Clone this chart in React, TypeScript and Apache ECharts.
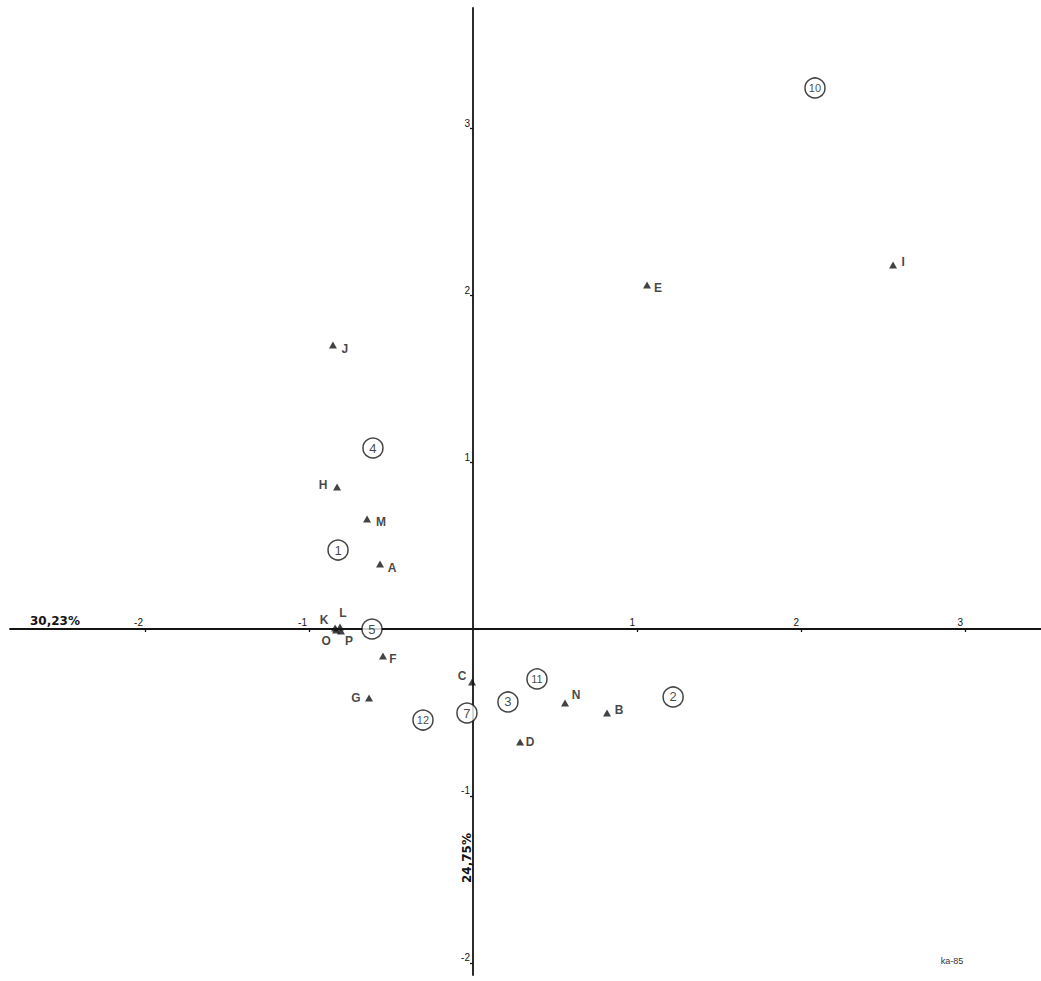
import React, { useEffect, useRef } from "react";
import * as echarts from "echarts";

// Row points (triangles)
const rowLabels = ["A", "B", "C", "D", "E", "F", "G", "H", "I", "J", "K", "L", "M", "N", "O", "P"];
const rowX = [-0.567, 0.817, -0.006, 0.287, 1.061, -0.549, -0.634, -0.829, 2.561, -0.854, -0.841, -0.811, -0.646, 0.561, -0.835, -0.805];
const rowY = [0.389, -0.503, -0.317, -0.677, 2.06, -0.162, -0.413, 0.85, 2.18, 1.701, 0.006, 0.012, 0.659, -0.443, -0.006, -0.012];

// Column points (circled numbers)
const colLabels = ["1", "2", "3", "4", "5", "7", "10", "11", "12"];
const colX = [-0.823, 1.22, 0.213, -0.61, -0.616, -0.037, 2.085, 0.39, -0.305];
const colY = [0.473, -0.407, -0.437, 1.084, 0.0, -0.503, 3.24, -0.299, -0.545];

// Axis ticks
const xTicks = [-2, -1, 1, 2, 3];
const yTicks = [-2, -1, 1, 2, 3];
const xRange = [-2.823, 3.463];
const yRange = [-2.072, 3.719];

const xAxisTitle = "30,23%";
const yAxisTitle = "24,75%";
const noteText = "ka-85";

// label placement (style)
const labelOffsets: Record<string, [number, number]> = {
  A: [12, 4],
  B: [12, -3],
  C: [-10, -6],
  D: [10, 0],
  E: [11, 3],
  F: [10, 3],
  G: [-13, 0],
  H: [-14, -2],
  I: [10, -3],
  J: [12, 4],
  K: [-11, -8],
  L: [3, -14],
  M: [14, 3],
  N: [11, -8],
  O: [-10, 11],
  P: [8, 10],
};

const INK = "#141414";
const FONT = "'Liberation Sans', Arial, sans-serif";
const W = 1041;
const H = 981;
const GRID = { left: 10, right: 0, top: 8, bottom: 6 };

const tickFormatter = (ticks: number[]) => (v: number) => {
  const r = Math.round(v);
  return Math.abs(v - r) < 1e-6 && ticks.indexOf(r) >= 0 ? String(r) : "";
};

export default function App() {
  const ref = useRef<HTMLDivElement>(null);
  useEffect(() => {
    if (!ref.current) return;
    const chart = echarts.init(ref.current, null, { renderer: "svg" });
    chart.setOption({
      animation: false,
      backgroundColor: "#ffffff",
      grid: { ...GRID, containLabel: false, outerBoundsMode: "none" },
      xAxis: {
        type: "value",
        min: xRange[0],
        max: xRange[1],
        position: "bottom",
        axisLine: { onZero: false, lineStyle: { color: INK, width: 1.8 } },
        axisTick: { show: true, customValues: xTicks, length: 3, lineStyle: { color: INK, width: 1.3 } },
        axisLabel: {
          inside: true,
          showMinLabel: false,
          showMaxLabel: false,
          formatter: tickFormatter(xTicks),
          align: "right",
          margin: 2,
          padding: [0, 2, 0, 0],
          fontSize: 10,
          fontFamily: FONT,
          color: INK,
        },
        splitLine: { show: false },
      },
      yAxis: {
        type: "value",
        min: yRange[0],
        max: yRange[1],
        position: "left",
        axisLine: { onZero: false, lineStyle: { color: INK, width: 1.8 } },
        axisTick: { show: true, customValues: yTicks, length: 3, lineStyle: { color: INK, width: 1.3 } },
        axisLabel: {
          showMinLabel: false,
          showMaxLabel: false,
          formatter: tickFormatter(yTicks),
          verticalAlign: "bottom",
          margin: 3,
          fontSize: 10,
          fontFamily: FONT,
          color: INK,
        },
        splitLine: { show: false },
      },
      series: [
        {
          type: "scatter",
          z: 3,
          symbol: "triangle",
          symbolSize: [8, 7],
          itemStyle: { color: INK },
          emphasis: { disabled: true },
          label: {
            show: true,
            position: "inside",
            formatter: "{b}",
            color: INK,
            fontSize: 12,
            fontWeight: "bold",
            fontFamily: FONT,
          },
          data: rowLabels.map((n, i) => ({
            name: n,
            value: [rowX[i], rowY[i]],
            label: { offset: labelOffsets[n], color: INK },
          })),
        },
        {
          type: "scatter",
          z: 4,
          symbol: "circle",
          symbolSize: 20,
          itemStyle: { color: "#ffffff", borderColor: INK, borderWidth: 1.5 },
          emphasis: { disabled: true },
          label: {
            show: true,
            position: "inside",
            formatter: "{b}",
            color: INK,
            fontSize: 13,
            fontFamily: FONT,
          },
          data: colLabels.map((n, i) => ({
            name: n,
            value: [colX[i], colY[i]],
            label: n.length > 1 ? { fontSize: 11, color: INK } : { color: INK },
          })),
        },
      ],
      graphic: [
        {
          type: "text",
          x: 55,
          y: 621,
          style: {
            text: xAxisTitle,
            fill: INK,
            font: "bold 12px 'DejaVu Sans', sans-serif",
            align: "center",
            verticalAlign: "middle",
          },
        },
        {
          type: "text",
          x: 467,
          y: 858,
          rotation: Math.PI / 2,
          style: {
            text: yAxisTitle,
            fill: INK,
            font: "bold 12px 'DejaVu Sans', sans-serif",
            align: "center",
            verticalAlign: "middle",
          },
        },
        {
          type: "text",
          x: 952,
          y: 961,
          style: {
            text: noteText,
            fill: "#333",
            font: "9px 'Liberation Sans', sans-serif",
            align: "center",
            verticalAlign: "middle",
          },
        },
      ],
    });
    // Move both axes to cross at the origin, using the library's own scales.
    const zero = chart.convertToPixel({ gridIndex: 0 }, [0, 0]) as number[];
    if (zero && isFinite(zero[0]) && isFinite(zero[1])) {
      chart.setOption({
        xAxis: { offset: zero[1] - (H - GRID.bottom) },
        yAxis: { offset: GRID.left - zero[0] },
      });
    }
    return () => chart.dispose();
  }, []);
  return (
    <div
      ref={ref}
      style={{ position: "absolute", left: 0, top: 0, width: W, height: H }}
    />
  );
}
